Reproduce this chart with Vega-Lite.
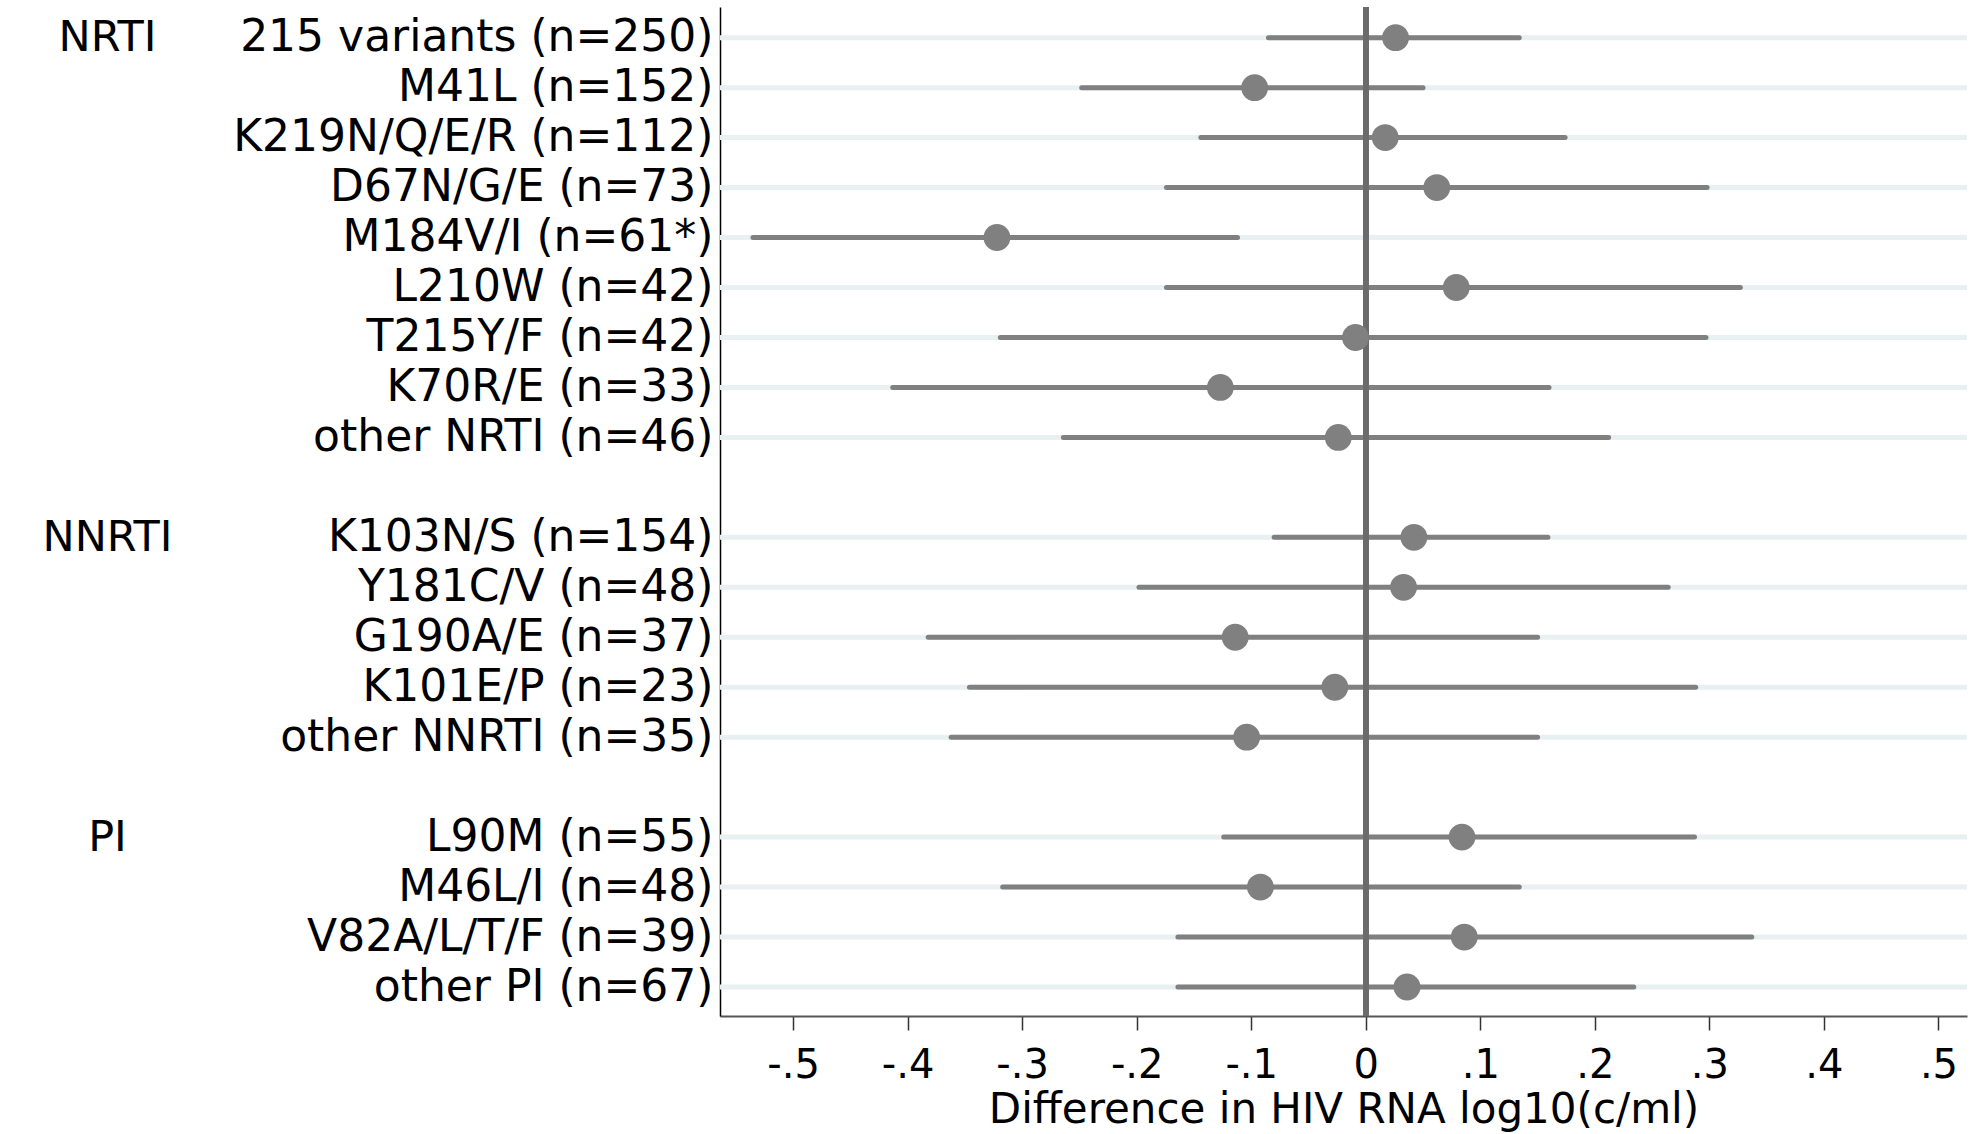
{
  "$schema": "https://vega.github.io/schema/vega-lite/v6.json",
  "width": 1247,
  "height": 1009,
  "autosize": {"type": "none"},
  "padding": {"left": 720, "top": 7, "right": 12, "bottom": 118},
  "background": "white",
  "config": {"view": {"stroke": null}, "font": "DejaVu Sans"},
  "datasets": {
    "rows": [
      {"pos": 0, "group": "NRTI", "label": "215 variants (n=250)", "est": 0.026, "lo": -0.085, "hi": 0.134},
      {"pos": 1, "group": "NRTI", "label": "M41L (n=152)", "est": -0.097, "lo": -0.248, "hi": 0.050},
      {"pos": 2, "group": "NRTI", "label": "K219N/Q/E/R (n=112)", "est": 0.017, "lo": -0.144, "hi": 0.174},
      {"pos": 3, "group": "NRTI", "label": "D67N/G/E (n=73)", "est": 0.062, "lo": -0.174, "hi": 0.298},
      {"pos": 4, "group": "NRTI", "label": "M184V/I (n=61*)", "est": -0.322, "lo": -0.535, "hi": -0.112},
      {"pos": 5, "group": "NRTI", "label": "L210W (n=42)", "est": 0.079, "lo": -0.174, "hi": 0.327},
      {"pos": 6, "group": "NRTI", "label": "T215Y/F (n=42)", "est": -0.009, "lo": -0.319, "hi": 0.297},
      {"pos": 7, "group": "NRTI", "label": "K70R/E (n=33)", "est": -0.127, "lo": -0.413, "hi": 0.160},
      {"pos": 8, "group": "NRTI", "label": "other NRTI (n=46)", "est": -0.024, "lo": -0.264, "hi": 0.212},
      {"pos": 10, "group": "NNRTI", "label": "K103N/S (n=154)", "est": 0.042, "lo": -0.080, "hi": 0.159},
      {"pos": 11, "group": "NNRTI", "label": "Y181C/V (n=48)", "est": 0.033, "lo": -0.198, "hi": 0.264},
      {"pos": 12, "group": "NNRTI", "label": "G190A/E (n=37)", "est": -0.114, "lo": -0.382, "hi": 0.150},
      {"pos": 13, "group": "NNRTI", "label": "K101E/P (n=23)", "est": -0.027, "lo": -0.346, "hi": 0.288},
      {"pos": 14, "group": "NNRTI", "label": "other NNRTI (n=35)", "est": -0.104, "lo": -0.362, "hi": 0.150},
      {"pos": 16, "group": "PI", "label": "L90M (n=55)", "est": 0.084, "lo": -0.124, "hi": 0.287},
      {"pos": 17, "group": "PI", "label": "M46L/I (n=48)", "est": -0.092, "lo": -0.317, "hi": 0.134},
      {"pos": 18, "group": "PI", "label": "V82A/L/T/F (n=39)", "est": 0.086, "lo": -0.164, "hi": 0.337},
      {"pos": 19, "group": "PI", "label": "other PI (n=67)", "est": 0.036, "lo": -0.164, "hi": 0.234}
    ]
  },
  "data": {"name": "rows"},
  "layer": [
    {
      "layer": [
        {
          "mark": {"type": "rule", "color": "#e9f0f2", "strokeWidth": 5},
          "encoding": {
            "y": {
              "field": "pos",
              "type": "quantitative",
              "scale": {"domain": [-0.614, 19.58], "reverse": true, "nice": false, "zero": false},
              "axis": {
                "values": [0, 1, 2, 3, 4, 5, 6, 7, 8, 10, 11, 12, 13, 14, 16, 17, 18, 19],
                "labelExpr": "pluck(data('rows'), 'label')[indexof(pluck(data('rows'), 'pos'), datum.value)]",
                "ticks": false,
                "grid": false,
                "domain": true,
                "domainColor": "#000000",
                "domainWidth": 1.5,
                "labelFont": "DejaVu Sans",
                "labelFontSize": 44,
                "labelColor": "#000000",
                "labelPadding": 7,
                "labelLimit": 0,
                "labelOverlap": false,
                "labelFlush": false,
                "labelBound": false,
                "title": null
              }
            }
          }
        },
        {
          "mark": {"type": "rule", "color": "#808080", "strokeWidth": 5, "strokeCap": "round"},
          "encoding": {
            "x": {
              "field": "lo",
              "type": "quantitative",
              "scale": {"domain": [-0.5638, 0.5249], "nice": false, "zero": false},
              "axis": {
                "values": [-0.5, -0.4, -0.3, -0.2, -0.1, 0, 0.1, 0.2, 0.3, 0.4, 0.5],
                "labelExpr": "replace(replace(format(datum.value, '.1~f'), '0.', '.'), '\u2212', '-')",
                "grid": false,
                "domainColor": "#555555",
                "domainWidth": 2,
                "tickColor": "#333333",
                "tickWidth": 1.5,
                "tickSize": 14,
                "labelFont": "DejaVu Sans",
                "labelFontSize": 40,
                "labelColor": "#000000",
                "labelPadding": 15,
                "labelFlush": false,
                "labelOverlap": false,
                "title": "Difference in HIV RNA log10(c/ml)",
                "titleFont": "DejaVu Sans",
                "titleFontSize": 42,
                "titleFontWeight": "normal",
                "titleColor": "#000000",
                "titlePadding": 4
              }
            },
            "x2": {"field": "hi"},
            "y": {"field": "pos", "type": "quantitative"}
          }
        },
        {
          "mark": {"type": "rule", "color": "#6b6b6b", "strokeWidth": 5},
          "encoding": {"x": {"datum": 0, "type": "quantitative"}}
        },
        {
          "mark": {"type": "point", "filled": true, "shape": "circle", "size": 720, "color": "#808080", "opacity": 1},
          "encoding": {
            "x": {"field": "est", "type": "quantitative"},
            "y": {"field": "pos", "type": "quantitative"}
          }
        }
      ]
    },
    {
      "mark": {"type": "point", "opacity": 0},
      "encoding": {
        "y": {
          "field": "pos",
          "type": "quantitative",
          "scale": {"domain": [-0.614, 19.58], "reverse": true, "nice": false, "zero": false},
          "axis": {
            "orient": "left",
            "values": [0, 10, 16],
            "labelExpr": "pluck(data('rows'), 'group')[indexof(pluck(data('rows'), 'pos'), datum.value)]",
            "offset": 605,
            "labelPadding": 8,
            "labelAlign": "center",
            "ticks": false,
            "domain": false,
            "grid": false,
            "labelFont": "DejaVu Sans",
            "labelFontSize": 43,
            "labelColor": "#000000",
            "labelOverlap": false,
            "labelFlush": false,
            "labelBound": false,
            "title": null
          }
        }
      }
    }
  ],
  "resolve": {"scale": {"y": "independent"}, "axis": {"y": "independent"}}
}
